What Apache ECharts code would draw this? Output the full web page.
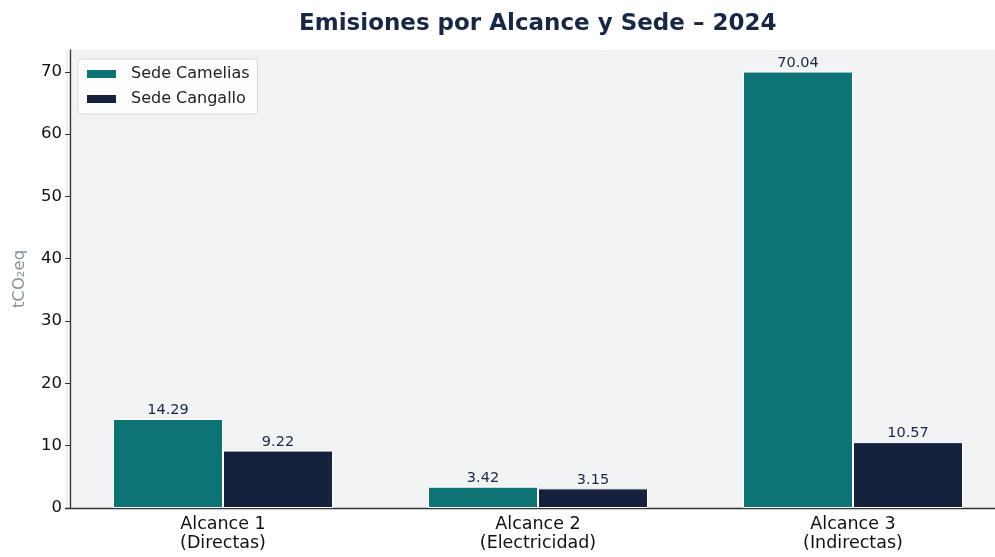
<!DOCTYPE html>
<html>
<head>
<meta charset="utf-8">
<script src="https://cdn.jsdelivr.net/npm/echarts@6/dist/echarts.min.js"></script>
<style>
  html, body { margin: 0; padding: 0; background: #fff; }
  #chart { width: 995px; height: 557px; }
</style>
</head>
<body>
<div id="chart"></div>
<script>
  // categorías y valores
  const categories = ['Alcance 1\n(Directas)', 'Alcance 2\n(Electricidad)', 'Alcance 3\n(Indirectas)']
  const camelias = [14.29, 3.42, 70.04]
  const cangallo = [9.22, 3.15, 10.57]
  const seriesNames = ['Sede Camelias', 'Sede Cangallo']
  const colors = ['#0e7374', '#16213d']
  const fontFam = 'DejaVu Sans, sans-serif'

  const chart = echarts.init(document.getElementById('chart'))

  const barLabel = {
    show: true,
    position: 'top',
    distance: 1,
    fontFamily: fontFam,
    fontSize: 14.5,
    color: '#1a2744',
    formatter: p => p.value.toFixed(2)
  }

  const option = {
    animation: false,
    title: {
      text: 'Emisiones por Alcance y Sede – 2024',
      left: 294,
      top: 8,
      textStyle: {
        fontFamily: fontFam,
        fontSize: 23,
        fontWeight: 'bold',
        color: '#1a2744'
      }
    },
    legend: {
      orient: 'vertical',
      left: 78,
      top: 59,
      icon: 'rect',
      itemWidth: 31,
      itemHeight: 10,
      itemGap: 9,
      padding: [7, 8, 7, 7],
      backgroundColor: 'rgba(255,255,255,0.85)',
      borderColor: '#d6d6d6',
      borderWidth: 1,
      borderRadius: 3,
      textStyle: { fontFamily: fontFam, fontSize: 16, color: '#222', padding: [0, 0, 0, 9] },
      data: seriesNames
    },
    grid: {
      left: 65.5,
      right: -15.5,
      top: 50,
      bottom: 49,
      outerBoundsMode: 'none',
      containLabel: false,
      show: true,
      backgroundColor: '#f2f3f5',
      borderWidth: 0
    },
    xAxis: {
      type: 'category',
      data: categories,
      axisLine: { lineStyle: { color: '#333', width: 1.3 } },
      axisTick: { alignWithLabel: true, length: 5, lineStyle: { color: '#333' } },
      axisLabel: {
        fontFamily: fontFam,
        fontSize: 17.5,
        color: '#111',
        lineHeight: 19,
        margin: 7
      }
    },
    yAxis: {
      type: 'value',
      min: 0,
      max: 73.5,
      interval: 10,
      offset: -4.5,
      name: 'tCO₂eq',
      nameLocation: 'middle',
      nameGap: 42,
      nameTextStyle: { fontFamily: fontFam, fontSize: 16.5, color: '#8592a0' },
      axisLine: { show: true, lineStyle: { color: '#333', width: 1.3 } },
      axisTick: { show: true, length: 5, lineStyle: { color: '#333' } },
      axisLabel: { fontFamily: fontFam, fontSize: 16.5, color: '#111', margin: 8, showMaxLabel: false },
      splitLine: { show: false }
    },
    series: [
      {
        name: seriesNames[0],
        type: 'bar',
        data: camelias,
        barWidth: 110,
        barGap: '0%',
        itemStyle: { color: colors[0], borderColor: '#fff', borderWidth: 1 },
        label: barLabel
      },
      {
        name: seriesNames[1],
        type: 'bar',
        data: cangallo,
        barWidth: 110,
        barGap: '0%',
        itemStyle: { color: colors[1], borderColor: '#fff', borderWidth: 1 },
        label: barLabel
      }
    ]
  }

  chart.setOption(option)
</script>
</body>
</html>
